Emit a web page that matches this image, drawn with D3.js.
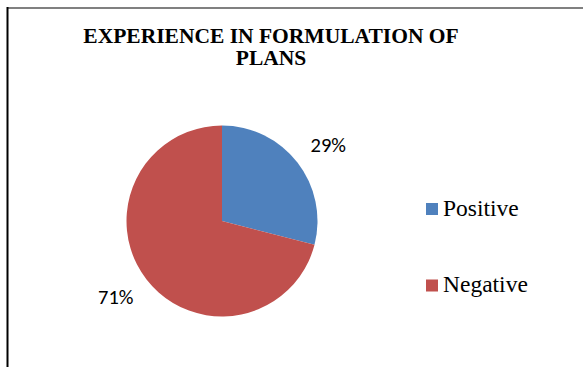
<!DOCTYPE html>
<html>
<head>
<meta charset="utf-8">
<script src="https://cdn.jsdelivr.net/npm/d3@7"></script>
<style>
  html, body { margin: 0; padding: 0; background: #fff; }
  svg { display: block; }
</style>
</head>
<body>
<svg id="chart" width="583" height="367"></svg>
<script>
// Survey responses: experience in formulation of plans
const categories = ["Positive", "Negative"];
const values = [29, 71];
const colors = ["#4F81BD", "#C0504D"];
const titleLines = ["EXPERIENCE IN FORMULATION OF", "PLANS"];

const SERIF = '"Liberation Serif"';
const LABEL_FONT = '"Carlito"';

const svg = d3.select("#chart");

// Frame edges (top and left visible)
svg.append("line").attr("x1", 7).attr("x2", 583).attr("y1", 8).attr("y2", 8)
  .attr("stroke", "#808080").attr("stroke-width", 2);
svg.append("line").attr("x1", 7.5).attr("x2", 7.5).attr("y1", 7).attr("y2", 367)
  .attr("stroke", "#000").attr("stroke-width", 2);

// Title
const title = svg.append("text")
  .style("font-family", SERIF)
  .style("font-weight", "bold")
  .style("font-size", "21.5px")
  .attr("text-anchor", "middle")
  .attr("fill", "#000");
titleLines.forEach((t, i) => {
  title.append("tspan").attr("x", 271).attr("y", 43 + i * 22).text(t);
});

// Pie
const cx = 222, cy = 221, r = 95.5;
const pie = d3.pie().sort(null).value(d => d.value);
const arc = d3.arc().innerRadius(0).outerRadius(r);
const data = categories.map((c, i) => ({ name: c, value: values[i], color: colors[i] }));
const arcs = pie(data);

const g = svg.append("g").attr("transform", `translate(${cx},${cy})`);
g.selectAll("path").data(arcs).join("path")
  .attr("d", arc)
  .attr("fill", d => d.data.color);

// Percentage labels: box placed just outside the slice's outer edge
const total = d3.sum(values);
const labelR = r + 20, boxW = 38, boxH = 18;
g.selectAll("text.pct").data(arcs).join("text")
  .attr("class", "pct")
  .attr("transform", d => {
    const a = (d.startAngle + d.endAngle) / 2;
    const s = Math.sin(a), c = -Math.cos(a);
    const x = labelR * s + s * boxW / 2;
    const y = labelR * c + c * boxH / 2;
    return `translate(${x},${y})`;
  })
  .style("font-family", LABEL_FONT)
  .style("font-size", "20.5px")
  .attr("text-anchor", "middle")
  .attr("dominant-baseline", "central")
  .attr("fill", "#000")
  .text(d => Math.round(d.data.value / total * 100) + "%");

// Legend
const legend = svg.append("g").attr("transform", "translate(426,0)");
const ly = d3.scalePoint().domain(categories).range([209, 285.5]);
legend.selectAll("rect").data(data).join("rect")
  .attr("x", 0).attr("y", d => ly(d.name) - 6)
  .attr("width", 12).attr("height", 12)
  .attr("fill", d => d.color);
legend.selectAll("text").data(data).join("text")
  .attr("x", 17).attr("y", d => ly(d.name) + 6.5)
  .style("font-family", SERIF)
  .style("font-size", "23.5px")
  .attr("fill", "#000")
  .text(d => d.name);
</script>
</body>
</html>
